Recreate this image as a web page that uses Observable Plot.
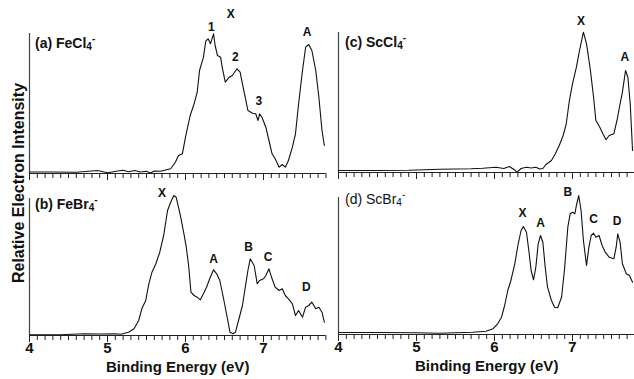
<!DOCTYPE html>
<html><head><meta charset="utf-8">
<script src="https://cdn.jsdelivr.net/npm/d3@7"></script>
<script src="https://cdn.jsdelivr.net/npm/@observablehq/plot@0.6"></script>
<style>
body{margin:0;background:#fff;}
#chart{position:relative;width:634px;height:379px;overflow:hidden;background:#fff;font-family:"Liberation Sans",Arial,sans-serif;color:#111;}
.panel{position:absolute;}
.plabel{position:absolute;font-size:14px;font-weight:bold;line-height:14px;white-space:nowrap;}
.plabel sub{font-size:10px;vertical-align:-2px;line-height:0;}
.plabel sup{font-size:10px;vertical-align:6px;line-height:0;}
#ylab{position:absolute;left:19px;top:183px;transform:translate(-50%,-50%) rotate(-90deg);font-size:16px;font-weight:bold;white-space:nowrap;}
</style></head>
<body><div id="chart"></div>
<script>
// ---- data (binding energy in eV, relative intensity in arbitrary units) ----
const energyA = [4.00,4.30,4.60,4.87,5.00,5.13,5.20,5.27,5.35,5.42,5.50,5.55,5.60,5.68,5.81,5.87,5.91,5.96,6.00,6.06,6.11,6.15,6.18,6.23,6.26,6.29,6.32,6.36,6.38,6.41,6.45,6.47,6.51,6.56,6.60,6.66,6.70,6.73,6.77,6.80,6.86,6.90,6.93,6.95,6.98,7.03,7.07,7.11,7.15,7.20,7.24,7.28,7.32,7.37,7.41,7.45,7.50,7.54,7.58,7.62,7.67,7.71,7.75,7.78];
const intensityA = [1.5,1.5,1.3,3,0.8,2.5,3.2,1.8,3.0,1.5,2.2,0.5,2.5,2.3,4.7,11.3,18,19.7,36.3,58,69.7,81.3,103,116.3,132.3,134.7,129.7,139.7,128,118,116.3,106.3,91.3,96.3,98,104.7,101.3,89.7,74.7,63,60.3,59.7,53,59.7,56.3,46.3,33,19.7,14.7,6.3,9,6.3,13,26.3,39.7,69.7,103,126.3,129,123,103,76.3,43,28];

const energyB = [4.00,4.40,4.70,4.91,5.10,5.17,5.27,5.34,5.40,5.44,5.49,5.53,5.57,5.62,5.67,5.72,5.77,5.81,5.85,5.88,5.93,5.98,6.01,6.04,6.07,6.11,6.15,6.19,6.23,6.27,6.31,6.36,6.40,6.44,6.48,6.53,6.57,6.61,6.64,6.68,6.73,6.77,6.80,6.83,6.88,6.92,6.95,7.00,7.03,7.07,7.11,7.15,7.20,7.24,7.28,7.32,7.37,7.41,7.45,7.50,7.54,7.58,7.62,7.67,7.71,7.75,7.78];
const intensityB = [0.8,0.8,1.8,1.5,1.8,1.2,3.3,6.7,15,26.7,35,51.7,63.3,71.7,83.3,100,125,133.3,140,138.3,121.7,101.7,88.3,70,43.3,40,38.3,35.7,41.7,48.3,56.7,65.7,61.7,55,40,20,3.3,1.7,3.3,15,30,50,65,76.7,70,51.7,55,56.7,60,66.7,56.7,48.3,45,46.7,40,36.7,31.7,20,25,18.3,28.3,30,33.3,26.7,28.3,23.3,13.3];

const energyC = [4.00,4.50,4.90,5.10,5.30,5.50,5.70,5.85,6.02,6.12,6.19,6.25,6.29,6.34,6.41,6.47,6.53,6.58,6.62,6.66,6.73,6.78,6.83,6.88,6.92,6.96,7.00,7.05,7.09,7.14,7.18,7.23,7.27,7.30,7.35,7.39,7.43,7.47,7.53,7.57,7.61,7.64,7.68,7.71,7.74,7.77];
const intensityC = [2,2,2.2,2.8,3.3,3.5,3.7,4.3,5.3,4,6,3,0.3,4,5.3,4.5,5.3,3.5,4,8,12,18.7,27,37,48.7,72,88.7,105.3,122,140.3,128.7,102,75.3,52,45.3,38.7,32.7,37,38.7,52,68.7,80.3,102,95.3,68.7,22];

const energyD = [4.00,4.50,5.00,5.29,5.72,5.89,5.98,6.04,6.09,6.13,6.17,6.21,6.26,6.30,6.34,6.37,6.41,6.44,6.47,6.50,6.53,6.56,6.59,6.62,6.65,6.68,6.73,6.77,6.81,6.86,6.90,6.94,6.97,7.00,7.03,7.05,7.08,7.11,7.14,7.18,7.21,7.24,7.27,7.30,7.34,7.38,7.42,7.47,7.53,7.56,7.58,7.61,7.64,7.69,7.73,7.77];
const intensityD = [2,2,1.8,1.3,2.3,3.3,5.7,10.7,17.3,29,44,54,70.7,89,104,108,102.3,84,64,54.7,67.3,90.7,99,92.3,67.3,47.3,34,27.3,26.7,37.3,67.3,107.3,120.7,122.3,120.7,129,139,124,94,69,87.3,99,101.3,97.3,99,89,82.3,77.3,75.7,87.3,100.7,92.3,70.7,60.7,59,52.3];

// peak labels
const peakTextA = ["X","1","2","3","A"], peakEnergyA = [6.58,6.33,6.64,6.94,7.56], peakIntA = [159,146,116,72,141];
const peakTextB = ["X","A","B","C","D"], peakEnergyB = [5.70,6.36,6.81,7.06,7.55], peakIntB = [142,76,88,78,48];
const peakTextC = ["X","A"], peakEnergyC = [7.11,7.67], peakIntC = [151,115];
const peakTextD = ["X","A","B","C","D"], peakEnergyD = [6.36,6.59,6.94,7.27,7.57], peakIntD = [121,111,142,115,113];

// panel titles and axis text
const panelNames = ["(a) FeCl", "(b) FeBr", "(c) ScCl", "(d) ScBr"];
const majorTicks = [4, 5, 6, 7];
const xTitle = "Binding Energy (eV)";
const yTitle = "Relative Electron Intensity";

const minorTicks = d3.range(40, 79).map(d => d / 10);
const chart = document.getElementById("chart");

function panel(cfg) {
  const data = cfg.energy.map((e, i) => ({e, v: cfg.intensity[i]}));
  const peaks = cfg.peakText.map((t, i) => ({t, e: cfg.peakEnergy[i], v: cfg.peakInt[i]}));
  const marks = [
    Plot.ruleX([4], {y1: 0, y2: cfg.ymax, stroke: "#444", strokeWidth: 1.2}),
    Plot.ruleY([0], {stroke: "#222", strokeWidth: 1.2}),
    Plot.axisX({ticks: minorTicks, tickSize: 5, tickFormat: () => "", label: null, stroke: "#222"}),
    Plot.axisX({ticks: majorTicks, tickSize: 7, tickPadding: 0, stroke: "#222",
      tickFormat: cfg.bottom ? (d => String(d)) : (() => ""),
      label: cfg.bottom ? xTitle : null, labelAnchor: "center", labelArrow: "none", labelOffset: 36,
      fontSize: 15, fontWeight: "bold", fill: "#111"}),
    Plot.line(data, {x: "e", y: "v", stroke: "#111", strokeWidth: 1.1}),
    Plot.text(peaks, {x: "e", y: "v", text: "t", fontSize: 12, fontWeight: "bold", fill: "#111"})
  ];
  const p = Plot.plot({
    width: cfg.width, height: cfg.height,
    marginTop: cfg.mt, marginBottom: cfg.mb, marginLeft: cfg.ml, marginRight: cfg.mr,
    x: {domain: [4, 7.8]},
    y: {domain: [0, cfg.ymax], axis: null},
    style: {background: "transparent", overflow: "visible", fontFamily: "Liberation Sans, Arial, sans-serif"},
    marks
  });
  p.classList.add("panel");
  p.style.left = cfg.left + "px";
  p.style.top = cfg.top + "px";
  chart.appendChild(p);
  const lab = document.createElement("div");
  lab.className = "plabel";
  lab.innerHTML = cfg.name + "<sub>4</sub><sup>-</sup>";
  lab.style.left = cfg.labelX + "px";
  lab.style.top = cfg.labelY + "px";
  if (cfg.light) lab.style.fontWeight = "normal";
  chart.appendChild(lab);
}

panel({energy: energyA, intensity: intensityA, peakText: peakTextA, peakEnergy: peakEnergyA, peakInt: peakIntA,
  left: 0, top: 0, width: 330, height: 190, mt: 33, mb: 17, ml: 29, mr: 4.6, ymax: 140, bottom: false,
  name: panelNames[0], labelX: 35, labelY: 36});
panel({energy: energyC, intensity: intensityC, peakText: peakTextC, peakEnergy: peakEnergyC, peakInt: peakIntC,
  left: 310, top: 0, width: 326, height: 190, mt: 32, mb: 18, ml: 28, mr: 1.6, ymax: 140, bottom: false,
  name: panelNames[2], labelX: 345, labelY: 35});
panel({energy: energyB, intensity: intensityB, peakText: peakTextB, peakEnergy: peakEnergyB, peakInt: peakIntB,
  left: 0, top: 180, width: 330, height: 199, mt: 18, mb: 44, ml: 29, mr: 4.6, ymax: 137, bottom: true,
  name: panelNames[1], labelX: 35, labelY: 197});
panel({energy: energyD, intensity: intensityD, peakText: peakTextD, peakEnergy: peakEnergyD, peakInt: peakIntD,
  left: 310, top: 180, width: 326, height: 199, mt: 17, mb: 45, ml: 28, mr: 1.6, ymax: 137, bottom: true,
  name: panelNames[3], labelX: 345, labelY: 192, light: true});

const yl = document.createElement("div");
yl.id = "ylab";
yl.textContent = yTitle;
chart.appendChild(yl);
</script>
</body></html>
